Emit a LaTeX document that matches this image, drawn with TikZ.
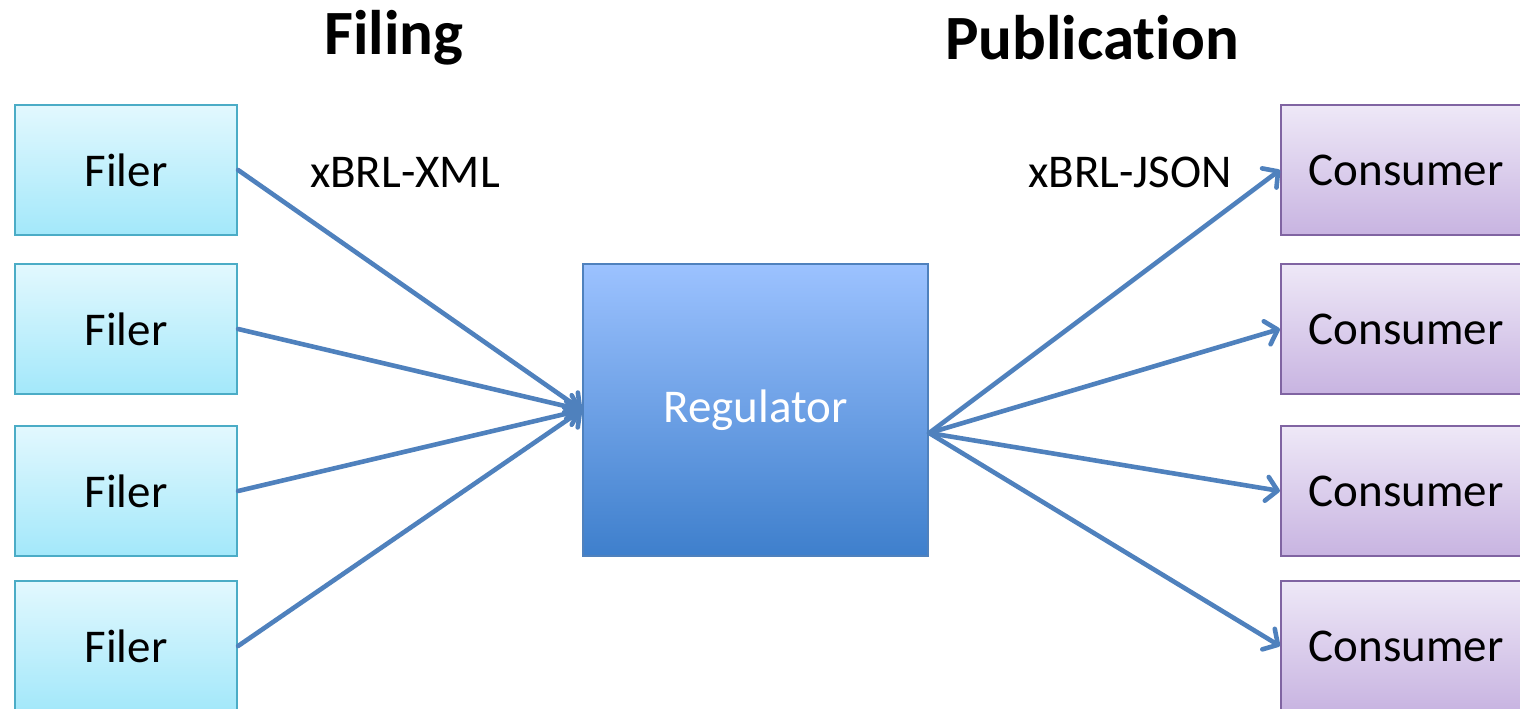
\documentclass[tikz,border=0pt]{standalone}
\usepackage{fontspec}
\setmainfont{Carlito}[RawFeature={-liga;-clig;-calt;-dlig}]
\usetikzlibrary{arrows.meta,calc}
\definecolor{filerTop}{HTML}{E2F8FE}
\definecolor{filerBot}{HTML}{A3E8FA}
\definecolor{filerLine}{HTML}{4BACC6}
\definecolor{consTop}{HTML}{EEE8F7}
\definecolor{consBot}{HTML}{C8B4E1}
\definecolor{consLine}{HTML}{8064A2}
\definecolor{regTop}{HTML}{9CC2FF}
\definecolor{regBot}{HTML}{3E7FCC}
\definecolor{regLine}{HTML}{4F81BD}
\definecolor{arrowC}{HTML}{4F81BD}
\tikzset{
  filerbox/.style={rectangle, draw=filerLine, line width=2.2pt, top color=filerTop, bottom color=filerBot,
    minimum width=222pt, minimum height=130pt, inner sep=0pt, font=\fontsize{47}{56}\selectfont},
  consbox/.style={rectangle, draw=consLine, line width=2.2pt, top color=consTop, bottom color=consBot,
    minimum width=250pt, minimum height=130pt, inner sep=0pt, font=\fontsize{47}{56}\selectfont},
  regbox/.style={rectangle, draw=regLine, line width=2.2pt, top color=regTop, bottom color=regBot,
    minimum width=345pt, minimum height=292pt, inner sep=0pt, text=white, font=\fontsize{47}{56}\selectfont},
  flow/.style={draw=arrowC, line width=4.6pt, line cap=round, line join=round,
    -{Straight Barb[length=11pt,width=24pt,line width=4.6pt,round]}},
  title/.style={font=\fontsize{63}{70}\selectfont\bfseries},
  fmt/.style={font=\fontsize{47}{56}\selectfont},
}
\begin{document}
\begin{tikzpicture}[x=1pt,y=-1pt]
\useasboundingbox (0,0) rectangle (1520,709);
\clip (0,0) rectangle (1520,709);
\fill[white] (0,0) rectangle (1520,709);
% titles
\node[title] (tfiling) at (394,38) {Filing};
\node[title] (tpub) at (1092,38) {Publicat\kern0pt ion};
% filers
\node[filerbox] (f1) at (126,170) {Filer};
\node[filerbox] (f2) at (126,329) {Filer};
\node[filerbox] (f3) at (126,491) {Filer};
\node[filerbox] (f4) at (126,646) {Filer};
% consumers
\node[consbox] (c1) at (1406,170) {Consumer};
\node[consbox] (c2) at (1406,329) {Consumer};
\node[consbox] (c3) at (1406,491) {Consumer};
\node[consbox] (c4) at (1406,646) {Consumer};
% regulator
\node[regbox] (reg) at (755.5,410) {Regulator};
% format labels
\node[fmt] (lxml) at (405,172) {xBRL-XML};
\node[fmt] (ljson) at (1130,172) {xBRL-JSON};
% connectors
\coordinate (rout) at ($(reg.east)+(0,23)$);
\foreach \f in {f1,f2,f3,f4} \draw[flow] (\f.east) -- (reg.west);
\foreach \c in {c1,c2,c3,c4} \draw[flow] (rout) -- (\c.west);
\end{tikzpicture}
\end{document}
